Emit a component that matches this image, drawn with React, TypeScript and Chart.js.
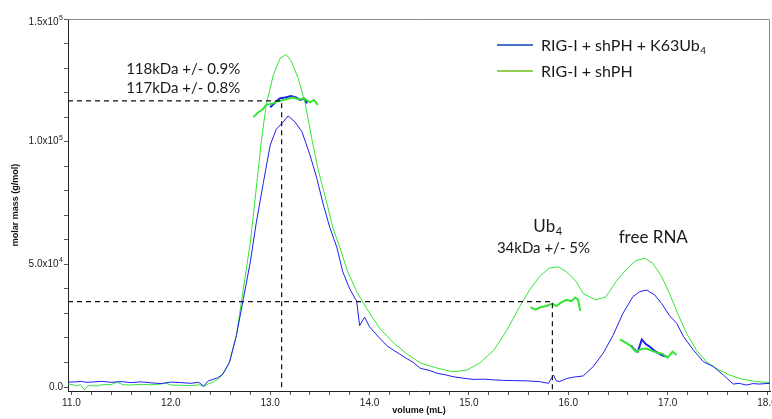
import React, { useEffect, useRef } from 'react';
import { Chart, registerables } from 'chart.js';

Chart.register(...registerables);

// Concentration trace, RIG-I + shPH + K63Ub4 (blue)
const blueVolume = [10.97, 11.05, 11.1, 11.15, 11.2, 11.3, 11.4, 11.5, 11.6, 11.7, 11.8, 11.9, 12.0, 12.1, 12.2, 12.28, 12.33, 12.38, 12.42, 12.47, 12.52, 12.59, 12.66, 12.73, 12.8, 12.86, 12.93, 13.0, 13.06, 13.13, 13.18, 13.25, 13.32, 13.4, 13.47, 13.53, 13.6, 13.67, 13.73, 13.8, 13.87, 13.9, 13.95, 14.0, 14.1, 14.17, 14.24, 14.3, 14.37, 14.44, 14.51, 14.6, 14.68, 14.76, 14.84, 14.94, 15.04, 15.15, 15.25, 15.35, 15.45, 15.58, 15.71, 15.8, 15.85, 15.88, 15.91, 15.98, 16.05, 16.15, 16.25, 16.35, 16.45, 16.55, 16.65, 16.72, 16.79, 16.87, 16.94, 17.02, 17.09, 17.16, 17.26, 17.36, 17.46, 17.56, 17.66, 17.72, 17.79, 17.86, 17.92, 18.03];
const blueSignal = [2000, 2100, 2300, 1900, 2000, 2300, 1900, 2200, 1800, 2100, 1700, 1400, 2000, 1800, 1500, 1900, 400, 2600, 3000, 3800, 5000, 10000, 21000, 36000, 51000, 67000, 83000, 98600, 105000, 108000, 110500, 108000, 104000, 94600, 85000, 75000, 65000, 57000, 47000, 40000, 35000, 25000, 28500, 24500, 20000, 17000, 15000, 13500, 11700, 10000, 7600, 6800, 5600, 5000, 4200, 3600, 3100, 3200, 2900, 2700, 2600, 2500, 2200, 1500, 4900, 2500, 2200, 3400, 4000, 4500, 8300, 13700, 21000, 30000, 36800, 38900, 39500, 37500, 34000, 29000, 26000, 20500, 15000, 10300, 8300, 4900, 1200, 1500, 800, 1400, 1200, 1500];

// Concentration trace, RIG-I + shPH (green)
const greenVolume = [10.97, 11.02, 11.05, 11.09, 11.13, 11.17, 11.25, 11.3, 11.4, 11.46, 11.52, 11.6, 11.7, 11.8, 11.9, 11.95, 12.0, 12.1, 12.2, 12.28, 12.33, 12.38, 12.44, 12.49, 12.55, 12.59, 12.66, 12.73, 12.8, 12.86, 12.91, 12.96, 13.03, 13.1, 13.16, 13.21, 13.28, 13.35, 13.42, 13.48, 13.57, 13.63, 13.7, 13.78, 13.87, 13.97, 14.1, 14.24, 14.37, 14.51, 14.68, 14.84, 14.98, 15.11, 15.25, 15.38, 15.51, 15.61, 15.71, 15.81, 15.9, 15.98, 16.08, 16.15, 16.28, 16.38, 16.48, 16.58, 16.68, 16.77, 16.85, 16.94, 17.02, 17.1, 17.19, 17.29, 17.39, 17.49, 17.62, 17.76, 17.89, 18.03];
const greenSignal = [1200, 900, 400, 1000, -1200, 600, 400, 900, 1000, 2000, 900, 800, 1100, 900, 1200, 1600, 800, 700, 500, 900, 200, 1300, 2300, 3700, 7000, 10200, 21000, 40000, 59000, 81000, 100000, 115000, 127000, 134000, 135500, 133000, 126000, 116000, 101000, 89000, 75000, 65000, 57000, 47000, 39000, 32000, 24000, 18000, 13700, 9800, 7700, 6200, 6900, 9800, 15000, 23000, 32700, 39500, 45000, 48500, 49000, 47000, 43000, 38000, 35500, 36800, 43000, 47700, 51500, 52500, 50400, 45000, 38000, 30000, 21900, 15000, 10300, 7600, 4900, 3100, 2200, 1800];

// Molar mass segments (g/mol)
const blueMassPeakVolume = [13.0, 13.05, 13.1, 13.15, 13.21, 13.26, 13.3, 13.34, 13.37];
const blueMassPeak = [114000, 116000, 117700, 118000, 118600, 118000, 117000, 117500, 115600];
const greenMassPeakVolume = [12.83, 12.88, 12.92, 12.96, 13.03, 13.08, 13.13, 13.18, 13.23, 13.29, 13.34, 13.4, 13.44, 13.48];
const greenMassPeak = [110000, 112000, 113000, 115000, 115600, 116500, 117000, 117500, 118000, 117200, 117700, 116000, 117000, 115000];
const greenMassUb4Volume = [15.62, 15.67, 15.72, 15.78, 15.84, 15.88, 15.93, 15.98, 16.03, 16.07, 16.1, 16.12];
const greenMassUb4 = [32500, 31500, 32500, 33000, 34000, 33000, 34500, 35500, 35000, 36500, 35500, 31000];
const blueMassRnaVolume = [16.63, 16.67, 16.7, 16.74, 16.78, 16.82, 16.88, 16.95, 16.99];
const blueMassRna = [17000, 15000, 14400, 19400, 17500, 16400, 14400, 12800, 12400];
const greenMassRnaVolume = [16.52, 16.58, 16.62, 16.68, 16.74, 16.79, 16.89, 16.95, 17.0, 17.05, 17.09];
const greenMassRna = [19400, 18000, 17000, 14400, 15600, 15600, 14000, 13500, 12000, 14400, 13000];

// Reference (dashed) guides: molar mass read-outs at peak positions
const peakVolumes = [13.115, 15.84];
const peakMasses = [116600, 34800];

// Axis ticks
const xMajorTicks = [11, 12, 13, 14, 15, 16, 17, 18];
const yMajorTicks = [0, 50000, 100000, 150000];
const yTickMantissa = ['0.0', '5.0x10', '1.0x10', '1.5x10'];
const yTickExponent = ['', '4', '5', '5'];

const seriesNames = ['RIG-I + shPH + K63Ub', 'RIG-I + shPH'];

const X_MIN = 10.965;
const X_MAX = 18.03;
const Y_MIN = -1630;
const Y_MAX = 150000;

const pts = (xs: number[], ys: number[]) => xs.map((x, i) => ({ x, y: ys[i] }));

const BLUE = '#1e1ef2';
const GREEN = '#36e436';
const TEXT_FONT = 'Lato, "Open Sans", sans-serif';
const AXIS_FONT = '"Liberation Sans", Arial, sans-serif';

const decorPlugin = {
  id: 'decor',
  beforeDatasetsDraw(chart: any) {
    const { ctx, chartArea } = chart;
    ctx.save();
    ctx.strokeStyle = '#8a8a8a';
    ctx.lineWidth = 1;
    ctx.beginPath();
    ctx.moveTo(chartArea.left, chartArea.top + 0.5);
    ctx.lineTo(chartArea.right - 0.5, chartArea.top + 0.5);
    ctx.lineTo(chartArea.right - 0.5, chartArea.bottom);
    ctx.stroke();
    ctx.restore();
  },
  afterDraw(chart: any) {
    const { ctx, chartArea } = chart;
    const xs = chart.scales.x;
    const ys = chart.scales.y;
    const px = (v: number) => xs.getPixelForValue(v);
    const py = (v: number) => ys.getPixelForValue(v);
    ctx.save();

    // y tick labels with superscript exponents
    ctx.fillStyle = '#222';
    ctx.textBaseline = 'middle';
    yMajorTicks.forEach((v, i) => {
      let y = py(v);
      if (y < chartArea.top + 3) y = chartArea.top + 3;
      const right = chartArea.left - 5;
      ctx.font = `7px ${AXIS_FONT}`;
      const we = yTickExponent[i] ? ctx.measureText(yTickExponent[i]).width : 0;
      ctx.textAlign = 'right';
      if (yTickExponent[i]) {
        ctx.fillText(yTickExponent[i], right, y - 4);
      }
      ctx.font = `10px ${AXIS_FONT}`;
      ctx.fillText(yTickMantissa[i], right - we - (we ? 0.5 : 0), y);
    });

    ctx.fillStyle = '#1a1a1a';
    const sub = (main: string, s: string, x: number, y: number, size: number, align: 'left' | 'center') => {
      ctx.font = `${size}px ${TEXT_FONT}`;
      const w1 = ctx.measureText(main).width;
      ctx.font = `${Math.round(size * 0.65)}px ${TEXT_FONT}`;
      const w2 = ctx.measureText(s).width;
      const x0 = align === 'center' ? x - (w1 + w2) / 2 : x;
      ctx.font = `${size}px ${TEXT_FONT}`;
      ctx.textAlign = 'left';
      ctx.fillText(main, x0, y);
      ctx.font = `${Math.round(size * 0.65)}px ${TEXT_FONT}`;
      ctx.fillText(s, x0 + w1 + 0.5, y + size * 0.3);
    };

    // peak annotations
    ctx.font = `15px ${TEXT_FONT}`;
    ctx.textAlign = 'left';
    ctx.fillText('118kDa +/- 0.9%', px(11.55), py(129600));
    ctx.fillText('117kDa +/- 0.8%', px(11.55), py(121900));
    sub('Ub', '4', px(15.79), py(65600), 17, 'center');
    ctx.font = `15px ${TEXT_FONT}`;
    ctx.textAlign = 'center';
    ctx.fillText('34kDa +/- 5%', px(15.75), py(56700));
    ctx.font = `17px ${TEXT_FONT}`;
    ctx.fillText('free RNA', px(16.855), py(61100));

    // legend
    const lx0 = 497;
    const lx1 = 533;
    const tx = 541;
    const rows = [45, 71];
    const colors = ['#4472c4', '#92d050'];
    rows.forEach((ry, i) => {
      ctx.strokeStyle = colors[i];
      ctx.lineWidth = 2;
      ctx.beginPath();
      ctx.moveTo(lx0, ry);
      ctx.lineTo(lx1, ry);
      ctx.stroke();
      ctx.fillStyle = '#1a1a1a';
      if (i === 0) {
        sub(seriesNames[0], '4', tx, ry + 1, 16, 'left');
      } else {
        ctx.font = `16px ${TEXT_FONT}`;
        ctx.textAlign = 'left';
        ctx.fillText(seriesNames[1], tx, ry + 1);
      }
    });
    ctx.restore();
  },
};

export default function App() {
  const canvasRef = useRef<HTMLCanvasElement | null>(null);

  useEffect(() => {
    const canvas = canvasRef.current;
    if (!canvas) return;
    const line = (data: any[], color: string, width: number, dash: number[] = []) => ({
      data,
      borderColor: color,
      backgroundColor: color,
      borderWidth: width,
      borderDash: dash,
      showLine: true,
      pointRadius: 0,
      fill: false,
      tension: 0,
    });

    const guide1 = [
      { x: X_MIN, y: peakMasses[0] },
      { x: peakVolumes[0], y: peakMasses[0] },
      { x: peakVolumes[0], y: Y_MIN },
    ];
    const guide2 = [
      { x: X_MIN, y: peakMasses[1] },
      { x: peakVolumes[1], y: peakMasses[1] },
      { x: peakVolumes[1], y: Y_MIN },
    ];

    const chart = new Chart(canvas, {
      type: 'scatter',
      data: {
        datasets: [
          line(guide1, '#111', 1.2, [5, 4]),
          line(guide2, '#111', 1.2, [5, 4]),
          line(pts(blueVolume, blueSignal), BLUE, 1),
          line(pts(greenVolume, greenSignal), GREEN, 1),
          line(pts(greenMassPeakVolume, greenMassPeak), GREEN, 2),
          line(pts(blueMassPeakVolume, blueMassPeak), BLUE, 2),
          line(pts(greenMassUb4Volume, greenMassUb4), GREEN, 2),
          line(pts(greenMassRnaVolume, greenMassRna), GREEN, 2),
          line(pts(blueMassRnaVolume, blueMassRna), BLUE, 2),
        ],
      },
      options: {
        responsive: false,
        animation: false,
        devicePixelRatio: 1,
        layout: { padding: { top: 19, right: 2, left: 0, bottom: 0 } },
        plugins: {
          legend: { display: false },
          tooltip: { enabled: false },
        },
        scales: {
          x: {
            type: 'linear',
            min: X_MIN,
            max: X_MAX,
            afterBuildTicks: (s: any) => {
              const t: any[] = [];
              for (let i = 0; i <= 35; i++) t.push({ value: 11 + i * 0.2 });
              s.ticks = t;
            },
            afterFit: (s: any) => {
              s.height = 28;
              s.paddingLeft = 0;
              s.paddingRight = 0;
            },
            ticks: {
              autoSkip: false,
              maxRotation: 0,
              padding: 2,
              color: '#222',
              font: { family: AXIS_FONT, size: 10 },
              callback: (v: any) => {
                const n = Number(v);
                const m = xMajorTicks.find((t) => Math.abs(t - n) < 1e-6);
                return m !== undefined ? m.toFixed(1) : '';
              },
            },
            grid: { drawOnChartArea: false, drawTicks: true, tickLength: 4, color: '#555' },
            border: { display: true, color: '#222', width: 1 },
            title: {
              display: true,
              text: 'volume (mL)',
              color: '#111',
              font: { family: AXIS_FONT, size: 9, weight: 'bold' },
              padding: { top: 0, bottom: 3 },
            },
          },
          y: {
            type: 'linear',
            min: Y_MIN,
            max: Y_MAX,
            afterBuildTicks: (s: any) => {
              const t: any[] = [];
              for (let i = 0; i <= 15; i++) t.push({ value: i * 10000 });
              s.ticks = t;
            },
            afterFit: (s: any) => {
              s.width = 68;
              s.paddingTop = 0;
              s.paddingBottom = 0;
            },
            ticks: {
              autoSkip: false,
              padding: 2,
              color: '#222',
              font: { family: AXIS_FONT, size: 10 },
              callback: () => '',
            },
            grid: { drawOnChartArea: false, drawTicks: true, tickLength: 4, color: '#555' },
            border: { display: true, color: '#222', width: 1 },
            title: {
              display: true,
              text: 'molar mass (g/mol)',
              color: '#111',
              font: { family: AXIS_FONT, size: 9, weight: 'bold' },
              padding: { top: 10, bottom: 0 },
            },
          },
        },
      } as any,
      plugins: [decorPlugin],
    });
    return () => chart.destroy();
  }, []);

  return (
    <div style={{ position: 'absolute', left: 0, top: 0, width: 772, height: 419, background: '#fff' }}>
      <canvas ref={canvasRef} width={772} height={419} style={{ display: 'block', width: 772, height: 419 }} />
    </div>
  );
}
